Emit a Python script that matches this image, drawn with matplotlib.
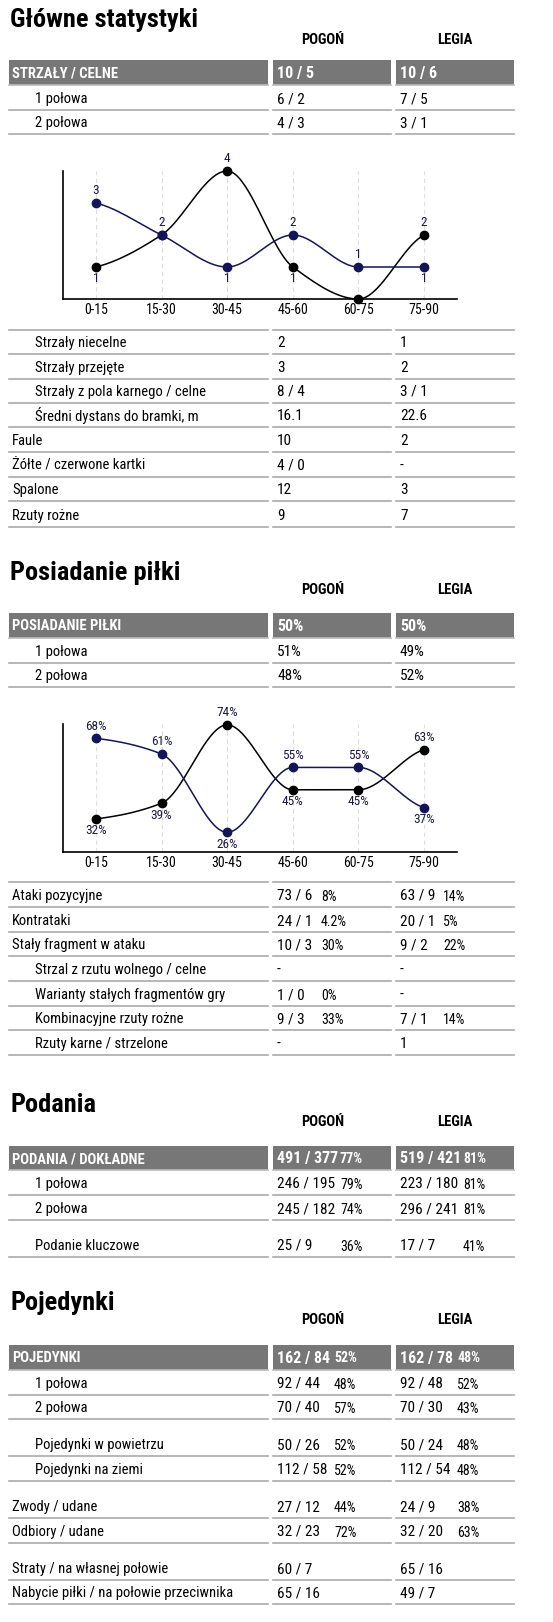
import numpy as np
import matplotlib
matplotlib.use("Agg")
import matplotlib.pyplot as plt
from matplotlib import font_manager as fm

names = {f.name for f in fm.fontManager.ttflist}
FONT = [n for n in ["Liberation Sans Narrow", "Roboto Condensed", "Open Sans Condensed"] if n in names] + ["DejaVu Sans"]
plt.rcParams['font.family'] = FONT

W, H = 553, 1622
NAVY = "#14145a"
GREY = "#777777"
LINEC = "#aaaaaa"

periods = ["0-15", "15-30", "30-45", "45-60", "60-75", "75-90"]
shots_pogon = [3, 2, 1, 2, 1, 1]
shots_legia = [1, 2, 4, 1, 0, 2]
poss_pogon = [68, 61, 26, 55, 55, 37]
poss_legia = [32, 39, 74, 45, 45, 63]

teams = ["POGOŃ", "LEGIA"]

# rows: (label, pogon value, pogon pct, legia value, legia pct, indent, line y)
sec1_head = ("STRZAŁY / CELNE", "10 / 5", "", "10 / 6", "")
sec1_rows = [("1 połowa", "6 / 2", "", "7 / 5", "", True, 110),
             ("2 połowa", "4 / 3", "", "3 / 1", "", True, 134)]
sec1b_rows = [("Strzały niecelne", "2", "", "1", "", True, 354),
              ("Strzały przejęte", "3", "", "2", "", True, 379),
              ("Strzały z pola karnego / celne", "8 / 4", "", "3 / 1", "", True, 403),
              ("Średni dystans do bramki, m", "16.1", "", "22.6", "", True, 427),
              ("Faule", "10", "", "2", "", False, 452),
              ("Żółte / czerwone kartki", "4 / 0", "", "-", "", False, 477),
              ("Spalone", "12", "", "3", "", False, 501),
              ("Rzuty rożne", "9", "", "7", "", False, 527)]
sec2_head = ("POSIADANIE PIŁKI", "50%", "", "50%", "")
sec2_rows = [("1 połowa", "51%", "", "49%", "", True, 663),
             ("2 połowa", "48%", "", "52%", "", True, 687)]
sec2b_rows = [("Ataki pozycyjne", "73 / 6", "8%", "63 / 9", "14%", False, 907),
              ("Kontrataki", "24 / 1", "4.2%", "20 / 1", "5%", False, 932),
              ("Stały fragment w ataku", "10 / 3", "30%", "9 / 2", "22%", False, 956),
              ("Strzal z rzutu wolnego / celne", "-", "", "-", "", True, 981),
              ("Warianty stałych fragmentów gry", "1 / 0", "0%", "-", "", True, 1006),
              ("Kombinacyjne rzuty rożne", "9 / 3", "33%", "7 / 1", "14%", True, 1030),
              ("Rzuty karne / strzelone", "-", "", "1", "", True, 1055)]
sec3_head = ("PODANIA / DOKŁADNE", "491 / 377", "77%", "519 / 421", "81%")
sec3_rows = [("1 połowa", "246 / 195", "79%", "223 / 180", "81%", True, 1195),
             ("2 połowa", "245 / 182", "74%", "296 / 241", "81%", True, 1220),
             ("Podanie kluczowe", "25 / 9", "36%", "17 / 7", "41%", True, 1257)]
sec4_head = ("POJEDYNKI", "162 / 84", "52%", "162 / 78", "48%")
sec4_rows = [("1 połowa", "92 / 44", "48%", "92 / 48", "52%", True, 1395),
             ("2 połowa", "70 / 40", "57%", "70 / 30", "43%", True, 1419),
             ("Pojedynki w powietrzu", "50 / 26", "52%", "50 / 24", "48%", True, 1456),
             ("Pojedynki na ziemi", "112 / 58", "52%", "112 / 54", "48%", True, 1481),
             ("Zwody / udane", "27 / 12", "44%", "24 / 9", "38%", False, 1518),
             ("Odbiory / udane", "32 / 23", "72%", "32 / 20", "63%", False, 1543),
             ("Straty / na własnej połowie", "60 / 7", "", "65 / 16", "", False, 1580),
             ("Nabycie piłki / na połowie przeciwnika", "65 / 16", "", "49 / 7", "", False, 1604)]

fig = plt.figure(figsize=(W / 100, H / 100), dpi=100)
ax = fig.add_axes([0, 0, 1, 1])
ax.set_xlim(0, W)
ax.set_ylim(H, 0)
ax.axis("off")

COLS = [(9, 268), (273, 391), (396, 514)]
FS = 10.5

def title(text, y, team_y):
    ax.text(10, y, text, fontsize=19, fontweight="bold", va="center", ha="left")
    ax.text(323, team_y, teams[0], fontsize=10.5, fontweight="bold", va="center", ha="center")
    ax.text(455, team_y, teams[1], fontsize=10.5, fontweight="bold", va="center", ha="center")

def header(row, y0, y1, pctx):
    for (a, b) in COLS:
        ax.add_patch(plt.Rectangle((a, y0), b - a, y1 - y0, color=GREY, lw=0))
        ax.plot([a, b], [y1, y1], color="#bbbbbb", lw=1.2)
    yc = (y0 + y1) / 2 + 1
    ax.text(12, yc, row[0], color="white", fontweight="bold", fontsize=FS, va="center")
    ax.text(277, yc, row[1], color="white", fontweight="bold", fontsize=FS + 1, va="center")
    ax.text(400, yc, row[3], color="white", fontweight="bold", fontsize=FS + 1, va="center")
    if row[2]:
        ax.text(pctx[0], yc, row[2], color="white", fontweight="bold", fontsize=FS - 0.5, va="center")
        ax.text(pctx[1], yc, row[4], color="white", fontweight="bold", fontsize=FS - 0.5, va="center")

def rows(rs, pctx):
    for r in rs:
        lab, v1, p1, v2, p2, ind, ly = r
        for (a, b) in COLS:
            ax.plot([a, b], [ly, ly], color=LINEC, lw=1.2)
        yc = ly - 11
        ax.text(35 if ind else 12, yc, lab, fontsize=FS, va="center")
        ax.text(277, yc, v1, fontsize=FS + 0.5, va="center")
        ax.text(400, yc, v2, fontsize=FS + 0.5, va="center")
        if p1:
            ax.text(pctx[0], yc + 1, p1, fontsize=FS - 0.5, va="center")
        if p2:
            ax.text(pctx[1], yc + 1, p2, fontsize=FS - 0.5, va="center")

def top_line(y):
    for (a, b) in COLS:
        ax.plot([a, b], [y, y], color=LINEC, lw=1.2)

def monotone(x, y, n=40):
    x = np.asarray(x, float); y = np.asarray(y, float)
    h = np.diff(x); d = np.diff(y) / h
    m = np.zeros_like(y)
    for i in range(1, len(y) - 1):
        if d[i - 1] * d[i] <= 0:
            m[i] = 0
        else:
            m[i] = 2 / (1 / d[i - 1] + 1 / d[i])
    m[0] = d[0] * 0.5
    m[-1] = d[-1] * 0.5
    xs, ys = [], []
    for i in range(len(h)):
        t = np.linspace(0, 1, n)
        h00 = 2*t**3 - 3*t**2 + 1; h10 = t**3 - 2*t**2 + t
        h01 = -2*t**3 + 3*t**2; h11 = t**3 - t**2
        xs.append(x[i] + t * h[i])
        ys.append(h00*y[i] + h10*h[i]*m[i] + h01*y[i+1] + h11*h[i]*m[i+1])
    return np.concatenate(xs), np.concatenate(ys)

def chart(top, bottom, a, b, ylim, fmt, off):
    cax = fig.add_axes([63 / W, 1 - bottom / H, (457 - 63) / W, (bottom - top) / H])
    cax.set_facecolor("none")
    x = np.arange(len(periods))
    for xi in x:
        cax.axvline(xi, color="#dddddd", ls=(0, (4, 3)), lw=0.8, zorder=0)
    for vals, col in ((b, "black"), (a, NAVY)):
        xs, ys = monotone(x, vals)
        cax.plot(xs, ys, color=col, lw=1.1, clip_on=False)
        cax.scatter(x, vals, s=36, color=col, zorder=5, clip_on=False)
    for i in x:
        for k, (v, o) in enumerate(((a[i], b[i]), (b[i], a[i]))):
            if v == 0:
                continue
            if v == o and k == 1:
                continue
            up = v >= o
            cax.annotate(fmt(v), (i, v), xytext=(0, off if up else -off), textcoords="offset pixels",
                         ha="center", va="center", fontsize=9.5, color="#1a1a40")
    cax.set_xlim(-0.5, 5.5)
    cax.set_ylim(*ylim)
    cax.set_xticks(x)
    cax.set_xticklabels(periods, fontsize=10)
    cax.set_yticks([])
    cax.tick_params(axis="x", length=0, pad=3)
    for s in ("top", "right"):
        cax.spines[s].set_visible(False)
    cax.spines["left"].set_linewidth(1.2)
    cax.spines["bottom"].set_linewidth(1.2)

# Section 1
title("Główne statystyki", 20, 40)
header(sec1_head, 60, 85, (0, 0))
rows(sec1_rows, (0, 0))
chart(171, 299, shots_pogon, shots_legia, (0, 4), lambda v: f"{v}", 12)
top_line(330)
rows(sec1b_rows, (0, 0))

# Section 2
title("Posiadanie piłki", 573, 590)
header(sec2_head, 613, 638, (0, 0))
rows(sec2_rows, (0, 0))
chart(724, 852, poss_pogon, poss_legia, (17.2, 74.4), lambda v: f"{v}%", 12)
top_line(882)
rows(sec2b_rows, (321, 443))

# Section 3
title("Podania", 1105, 1122)
header(sec3_head, 1146, 1170, (340, 463))
rows(sec3_rows, (340, 463))

# Section 4
title("Pojedynki", 1303, 1320)
header(sec4_head, 1345, 1370, (334, 457))
rows(sec4_rows, (334, 457))

fig.savefig("out.png", dpi=100)
